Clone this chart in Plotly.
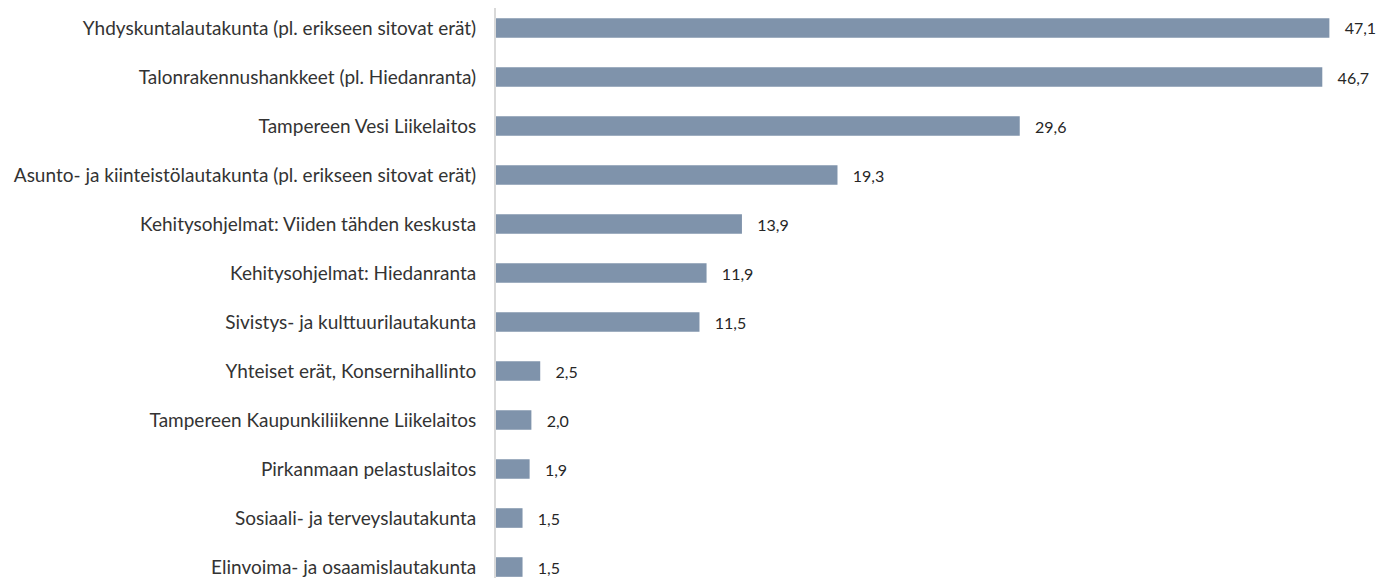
import plotly.graph_objects as go

# categories (top to bottom) and values, M€
categories = [
    "Yhdyskuntalautakunta (pl. erikseen sitovat erät)",
    "Talonrakennushankkeet (pl. Hiedanranta)",
    "Tampereen Vesi Liikelaitos",
    "Asunto- ja kiinteistölautakunta (pl. erikseen sitovat erät)",
    "Kehitysohjelmat: Viiden tähden keskusta",
    "Kehitysohjelmat: Hiedanranta",
    "Sivistys- ja kulttuurilautakunta",
    "Yhteiset erät, Konsernihallinto",
    "Tampereen Kaupunkiliikenne Liikelaitos",
    "Pirkanmaan pelastuslaitos",
    "Sosiaali- ja terveyslautakunta",
    "Elinvoima- ja osaamislautakunta",
]
values = [47.1, 46.7, 29.6, 19.3, 13.9, 11.9, 11.5, 2.5, 2.0, 1.9, 1.5, 1.5]

fig = go.Figure()
fig.add_trace(go.Bar(
    x=values,
    y=categories,
    orientation="h",
    marker=dict(color="#7f93ab", line=dict(width=0)),
    width=0.4,
    text=values,
    texttemplate="   %{x:.1f}",
    textposition="outside",
    constraintext="none",
    textfont=dict(family="Lato", size=16, color="#262626"),
    cliponaxis=False,
))

# the page body adds 8px around the figure, so size/margins/ranges allow for it
fig.update_layout(
    width=1378,
    height=570,
    margin=dict(l=488, r=0, t=0, b=0),
    plot_bgcolor="white",
    paper_bgcolor="white",
    separators=", ",
    showlegend=False,
    xaxis=dict(range=[0, 50.3], visible=False, automargin=False),
    yaxis=dict(
        type="category",
        categoryorder="array",
        categoryarray=categories,
        range=[11.224, -0.408],
        automargin=False,
        showline=True,
        linecolor="#d9d9d9",
        linewidth=2,
        ticks="outside",
        ticklen=14,
        tickcolor="rgba(0,0,0,0)",
        showgrid=False,
        tickfont=dict(family="Lato", size=19, color="#333333"),
    ),
)

fig.write_html("out.html")
